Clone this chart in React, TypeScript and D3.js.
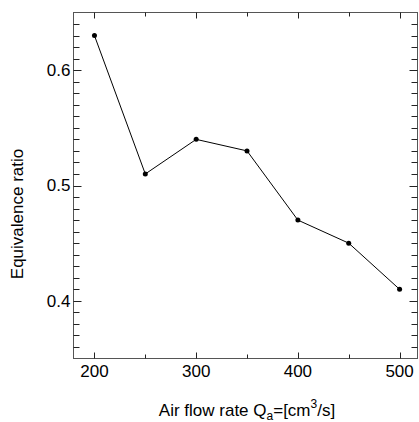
import { useRef, useEffect } from 'react';
import * as d3 from 'd3';

const flowRates = [200, 250, 300, 350, 400, 450, 500];
const ratios = [0.63, 0.51, 0.54, 0.53, 0.47, 0.45, 0.41];
const xMajorTicks = [200, 300, 400, 500];
const yMajorTicks = [0.4, 0.5, 0.6];

const App = () => {
  const svgRef = useRef<SVGSVGElement>(null);

  useEffect(() => {
    const svg = d3.select(svgRef.current);
    svg.selectAll('*').remove();
    const width = 419;
    const height = 422;
    const margin = { top: 12.5, right: 1.5, bottom: 63.5, left: 73.5 };
    const font = 'Liberation Sans, Arial, sans-serif';

    const x = d3.scaleLinear()
      .domain([179.4, 517.6])
      .range([margin.left, width - margin.right]);
    const y = d3.scaleLinear()
      .domain([0.35, 0.65])
      .range([height - margin.bottom, margin.top]);

    const data = flowRates.map((q, i) => ({ q, r: ratios[i] }));
    const x0 = margin.left, x1 = width - margin.right;
    const y0 = height - margin.bottom, y1 = margin.top;

    // frame
    svg.append('rect')
      .attr('x', x0).attr('y', y1)
      .attr('width', x1 - x0).attr('height', y0 - y1)
      .attr('fill', 'none').attr('stroke', '#555').attr('stroke-width', 1);

    const ticks = svg.append('g').attr('stroke', '#222').attr('stroke-width', 1);

    // x ticks, every 50, inward on bottom and top
    d3.range(200, 501, 50).forEach(v => {
      const px = Math.round(x(v)) + 0.5;
      const len = v % 100 === 0 ? 6 : 4;
      ticks.append('line').attr('x1', px).attr('x2', px).attr('y1', y0).attr('y2', y0 - len);
      ticks.append('line').attr('x1', px).attr('x2', px).attr('y1', y1).attr('y2', y1 + len);
    });

    // y ticks, every 0.01, inward on left and right
    d3.range(36, 65).map(v => v / 100).forEach(v => {
      const py = Math.round(y(v)) + 0.5;
      const major = yMajorTicks.some(t => Math.abs(t - v) < 1e-9);
      const len = major ? 8 : 6;
      ticks.append('line').attr('x1', x0).attr('x2', x0 + len).attr('y1', py).attr('y2', py);
      ticks.append('line').attr('x1', x1).attr('x2', x1 - len).attr('y1', py).attr('y2', py);
    });

    svg.append('g').selectAll('text').data(xMajorTicks).join('text')
      .attr('x', d => x(d)).attr('y', y0 + 18)
      .attr('text-anchor', 'middle')
      .attr('font-family', font).attr('font-size', 17)
      .text(d => d);

    svg.append('g').selectAll('text').data(yMajorTicks).join('text')
      .attr('x', x0 - 3).attr('y', d => y(d))
      .attr('dy', '0.35em')
      .attr('text-anchor', 'end')
      .attr('font-family', font).attr('font-size', 17)
      .text(d => d.toFixed(1));

    // axis titles
    const xt = svg.append('text')
      .attr('x', 247).attr('y', 416)
      .attr('text-anchor', 'middle')
      .attr('font-family', font).attr('font-size', 17);
    xt.append('tspan').text('Air flow rate Q');
    xt.append('tspan').attr('dy', 4).attr('font-size', 12).text('a');
    xt.append('tspan').attr('dy', -4).text('=[cm');
    xt.append('tspan').attr('dy', -8).attr('font-size', 12).text('3');
    xt.append('tspan').attr('dy', 8).text('/s]');

    svg.append('text')
      .attr('transform', 'translate(23,214) rotate(-90)')
      .attr('text-anchor', 'middle')
      .attr('font-family', font).attr('font-size', 17)
      .text('Equivalence ratio');

    const line = d3.line<{ q: number; r: number }>()
      .x(d => x(d.q))
      .y(d => y(d.r));

    svg.append('path')
      .datum(data)
      .attr('fill', 'none')
      .attr('stroke', '#000')
      .attr('stroke-width', 1)
      .attr('d', line);

    svg.append('g').selectAll('circle').data(data).join('circle')
      .attr('cx', d => x(d.q)).attr('cy', d => y(d.r))
      .attr('r', 2.5).attr('fill', '#000');
  }, []);

  return (
    <svg ref={svgRef} width="419" height="422"
      style={{ position: 'absolute', left: 0, top: 0, display: 'block' }}></svg>
  );
};

export default App;
